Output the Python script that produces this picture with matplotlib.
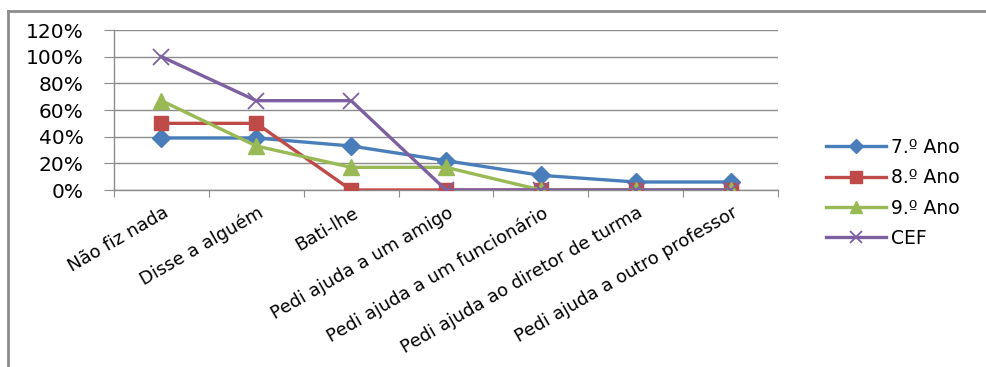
import matplotlib
matplotlib.use("Agg")
import matplotlib.pyplot as plt
from matplotlib.ticker import FuncFormatter
from matplotlib.lines import Line2D

categories = ["Não fiz nada", "Disse a alguém", "Bati-lhe", "Pedi ajuda a um amigo",
              "Pedi ajuda a um funcionário", "Pedi ajuda ao diretor de turma",
              "Pedi ajuda a outro professor"]
ano7 = [39, 39, 33, 22, 11, 6, 6]
ano8 = [50, 50, 0, 0, 0, 0, 0]
ano9 = [67, 33, 17, 17, 0, 0, 0]
cef = [100, 67, 67, 0, 0, 0, 0]
series_names = ["7.º Ano", "8.º Ano", "9.º Ano", "CEF"]
yticks = [0, 20, 40, 60, 80, 100, 120]

W, H = 987, 367
fig = plt.figure(figsize=(W / 100, H / 100), dpi=100)
plt.rcParams['font.family'] = ['DejaVu Sans']

ax = fig.add_axes([114 / W, 1 - 190 / H, (778 - 114) / W, (190 - 30) / H])

x = list(range(len(categories)))
ax.plot(x, ano7, color="#4A7EBB", lw=2.4, marker="D", ms=9, mec="#4A7EBB", mfc="#4A7EBB", label=series_names[0], zorder=3)
ax.plot(x, ano8, color="#BE4B48", lw=2.4, marker="s", ms=10, mec="#BE4B48", mfc="#BE4B48", label=series_names[1], zorder=3)
ax.plot(x, ano9, color="#98B954", lw=2.4, marker="^", ms=11, mec="#98B954", mfc="#98B954", label=series_names[2], zorder=3)
ax.plot(x, cef, color="#7D60A0", lw=2.4, marker="x", ms=11, mew=1.3, mec="#7D60A0", label=series_names[3], zorder=3)

ax.set_xlim(-0.5, len(categories) - 0.5)
ax.set_ylim(0, 120)
ax.set_yticks(yticks)
ax.yaxis.set_major_formatter(FuncFormatter(lambda v, p: f"{int(v)}%"))
ax.grid(axis="y", color="#8C8C8C", lw=1)
ax.set_axisbelow(True)
for s in ["top", "right"]:
    ax.spines[s].set_visible(False)
for s in ["left", "bottom"]:
    ax.spines[s].set_color("#8C8C8C")
    ax.spines[s].set_linewidth(1)

ax.set_xticks([i - 0.5 for i in range(len(categories) + 1)], minor=False)
ax.set_xticklabels([])
ax.tick_params(axis="x", length=5, color="#8C8C8C", direction="out")
ax.tick_params(axis="y", length=7, color="#8C8C8C", labelsize=14.5, pad=15)

for i, c in enumerate(categories):
    ax.annotate(c, xy=(i, 0), xycoords="data", xytext=(1, -10), textcoords="offset points",
                rotation=30, rotation_mode="anchor", ha="right", va="top", fontsize=13)

leg = fig.legend(loc="upper left", bbox_to_anchor=(826 / W, 1 - 138 / H), frameon=False,
                 fontsize=13.5, handlelength=3.2, labelspacing=0.6, handletextpad=0.25,
                 borderaxespad=0, borderpad=0, markerscale=0.8)

# outer frame
fig.add_artist(Line2D([8.5 / W, 8.5 / W], [0, 1 - 11 / H], transform=fig.transFigure, color="#8C8C8C", lw=2))
fig.add_artist(Line2D([8.5 / W, 1], [1 - 11 / H, 1 - 11 / H], transform=fig.transFigure, color="#8C8C8C", lw=2))

fig.savefig("out.png", dpi=100)
